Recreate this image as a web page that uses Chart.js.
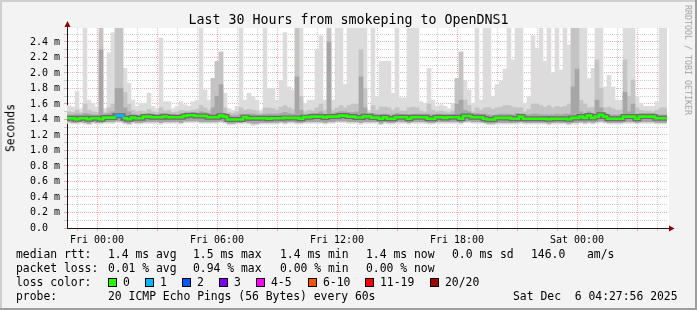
<!DOCTYPE html>
<html>
<head>
<meta charset="utf-8">
<script src="https://cdn.jsdelivr.net/npm/chart.js@4/dist/chart.umd.min.js"></script>
<style>
html,body{margin:0;padding:0;background:#f3f3f3;}
#wrap{position:relative;width:697px;height:310px;background:#f3f3f3;overflow:hidden;}
#c{position:absolute;left:0;top:0;}
.fr{position:absolute;}
.t{position:absolute;font-family:"DejaVu Sans Mono",monospace;white-space:pre;color:#000;line-height:1;font-size:11.4px;}
.box{position:absolute;width:9px;height:9px;box-sizing:border-box;border:1px solid #000;top:278px;}
</style>
</head>
<body>
<div id="wrap">
  <div class="fr" style="left:0;top:0;width:697px;height:2px;background:#cfcfcf"></div>
  <div class="fr" style="left:0;top:0;width:2px;height:310px;background:#cfcfcf"></div>
  <div class="fr" style="left:0;top:308px;width:697px;height:2px;background:#9e9e9e"></div>
  <div class="fr" style="left:695px;top:0;width:2px;height:310px;background:#9e9e9e"></div>
  <canvas id="c" width="697" height="310"></canvas>
  <div class="t" style="left:0;width:697px;text-align:center;top:13px;font-size:13.3px;">Last 30 Hours from smokeping to OpenDNS1</div>
  <div class="t" style="left:10.5px;top:127.5px;transform:translate(-50%,-50%) rotate(-90deg);">Seconds</div>
  <div class="t" style="left:688px;top:60px;transform:translate(-50%,-50%) rotate(90deg);font-size:8.3px;color:#a0a0a0;">RRDTOOL / TOBI OETIKER</div>
  <div id="legend"></div>
</div>
<script>
// ---- data (values in milliseconds), one entry per 12-minute bin ----
const smokeMax = [
 1.58,1.56,1.76,1.54,2.58,1.65,1.61,1.56,2.58,1.54,
 2.26,2.52,2.58,2.58,2.06,1.87,1.65,1.57,1.61,1.61,
 1.74,1.57,1.54,2.45,1.63,1.63,1.54,1.57,1.63,1.59,
 1.57,1.63,1.65,2.58,1.78,1.65,1.93,2.15,2.27,1.74,
 1.54,1.52,1.57,2.58,1.65,1.74,1.70,1.65,1.52,2.58,
 1.80,1.80,1.65,1.90,2.52,1.82,1.78,2.58,2.58,1.61,
 1.65,1.65,2.30,2.48,1.65,2.58,1.65,2.58,2.58,1.85,
 2.58,2.58,2.58,2.58,2.58,1.52,2.58,1.70,2.15,2.15,
 2.15,1.74,2.58,1.68,1.68,2.58,2.58,2.58,1.63,1.61,
 2.06,1.65,1.57,1.59,1.57,1.54,1.61,1.93,2.27,1.90,
 1.78,1.61,2.58,1.65,2.58,2.58,1.70,1.85,1.90,2.05,
 2.58,2.17,2.58,2.58,1.61,1.69,2.48,2.32,2.58,2.15,
 2.58,2.00,2.58,2.04,2.58,2.36,2.58,2.58,2.58,2.58,
 1.93,2.06,2.58,2.58,1.82,1.97,1.82,1.65,1.65,2.58,
 2.58,2.58,1.70,1.61,1.57,1.57,1.57,1.63,2.58,2.58];

const smokeHigh = [
 1.50,1.49,1.52,1.49,1.60,1.52,1.50,1.49,2.58,1.49,
 1.55,1.60,2.58,2.58,1.75,1.60,1.52,1.50,1.51,1.50,
 1.53,1.50,1.49,1.55,1.51,1.52,1.49,1.50,1.52,1.51,
 1.51,1.52,1.53,1.58,1.55,1.52,1.93,2.15,2.27,1.55,
 1.49,1.48,1.50,1.55,1.52,1.53,1.52,1.51,1.48,1.55,
 1.55,1.54,1.52,1.56,1.58,1.55,1.53,2.58,1.70,1.50,
 1.52,1.51,1.55,1.60,1.52,2.58,1.52,1.55,1.58,1.55,
 1.58,1.60,1.60,2.30,1.80,1.49,1.58,1.52,1.56,1.56,
 1.55,1.52,1.55,1.51,1.51,1.55,1.56,1.55,1.51,1.50,
 1.60,1.52,1.50,1.51,1.50,1.49,1.51,1.93,2.27,1.65,
 1.58,1.50,1.55,1.52,1.55,1.55,1.53,1.55,1.56,1.58,
 1.58,1.56,1.55,1.55,1.50,1.53,1.60,1.60,1.58,1.56,
 1.58,1.55,1.57,1.56,1.57,1.60,2.58,2.58,1.65,1.60,
 1.55,1.56,2.17,1.80,1.55,1.56,1.54,1.52,1.52,2.17,
 1.70,1.91,1.55,1.52,1.51,1.51,1.50,1.52,1.55,1.55];

const smokeMid = [
 1.46,1.46,1.47,1.46,1.48,1.47,1.46,1.46,2.30,1.47,
 1.48,1.50,1.80,1.80,1.55,1.50,1.47,1.46,1.46,1.47,
 1.48,1.47,1.46,1.48,1.48,1.47,1.47,1.46,1.47,1.48,
 1.48,1.49,1.48,1.50,1.49,1.47,1.55,1.70,1.85,1.48,
 1.45,1.45,1.45,1.47,1.47,1.47,1.47,1.46,1.46,1.47,
 1.47,1.47,1.47,1.48,1.49,1.48,1.47,1.95,1.52,1.46,
 1.47,1.48,1.48,1.50,1.47,2.40,1.48,1.49,1.50,1.50,
 1.49,1.49,1.50,1.95,1.55,1.47,1.48,1.47,1.47,1.47,
 1.46,1.46,1.48,1.47,1.47,1.46,1.47,1.47,1.47,1.47,
 1.47,1.46,1.47,1.47,1.46,1.46,1.47,1.60,1.65,1.52,
 1.50,1.47,1.48,1.47,1.47,1.46,1.45,1.46,1.47,1.47,
 1.47,1.46,1.48,1.47,1.46,1.46,1.47,1.47,1.46,1.46,
 1.46,1.46,1.47,1.46,1.47,1.47,1.82,2.05,1.50,1.47,
 1.50,1.47,1.65,1.55,1.48,1.46,1.46,1.46,1.46,1.75,
 1.50,1.60,1.46,1.48,1.48,1.48,1.48,1.46,1.46,1.46];

const smokeLow = [
 1.37,1.36,1.36,1.37,1.36,1.35,1.37,1.36,1.36,1.37,
 1.37,1.37,1.38,1.38,1.36,1.35,1.37,1.36,1.36,1.37,
 1.37,1.37,1.37,1.36,1.37,1.37,1.37,1.37,1.36,1.38,
 1.38,1.38,1.38,1.37,1.37,1.37,1.37,1.37,1.38,1.37,
 1.35,1.35,1.36,1.36,1.37,1.36,1.35,1.35,1.36,1.36,
 1.36,1.36,1.36,1.37,1.36,1.37,1.37,1.36,1.36,1.37,
 1.37,1.37,1.37,1.37,1.36,1.37,1.37,1.38,1.38,1.38,
 1.37,1.37,1.37,1.36,1.37,1.37,1.37,1.37,1.35,1.37,
 1.36,1.36,1.37,1.37,1.37,1.36,1.37,1.37,1.37,1.37,
 1.36,1.36,1.37,1.37,1.37,1.37,1.37,1.37,1.36,1.38,
 1.38,1.37,1.37,1.37,1.36,1.35,1.35,1.36,1.36,1.36,
 1.36,1.36,1.36,1.37,1.36,1.36,1.36,1.36,1.36,1.36,
 1.35,1.36,1.36,1.36,1.36,1.35,1.36,1.36,1.37,1.36,
 1.37,1.36,1.37,1.38,1.37,1.36,1.36,1.36,1.36,1.37,
 1.37,1.37,1.36,1.37,1.37,1.37,1.37,1.36,1.36,1.36];

const smokeMin = [
 1.35,1.34,1.34,1.35,1.34,1.33,1.35,1.34,1.34,1.35,
 1.35,1.35,1.36,1.36,1.34,1.33,1.35,1.34,1.34,1.35,
 1.35,1.35,1.35,1.34,1.35,1.35,1.35,1.35,1.34,1.36,
 1.36,1.36,1.36,1.35,1.35,1.35,1.35,1.35,1.36,1.35,
 1.33,1.33,1.34,1.34,1.35,1.34,1.32,1.33,1.34,1.34,
 1.34,1.34,1.34,1.35,1.34,1.35,1.35,1.34,1.34,1.35,
 1.35,1.35,1.35,1.35,1.34,1.35,1.35,1.36,1.36,1.36,
 1.35,1.35,1.35,1.34,1.35,1.35,1.35,1.35,1.33,1.35,
 1.34,1.34,1.35,1.35,1.35,1.34,1.35,1.35,1.35,1.35,
 1.34,1.34,1.35,1.35,1.35,1.35,1.35,1.35,1.34,1.36,
 1.36,1.35,1.35,1.35,1.34,1.33,1.33,1.34,1.34,1.34,
 1.34,1.34,1.34,1.35,1.34,1.34,1.34,1.34,1.34,1.34,
 1.33,1.34,1.34,1.34,1.34,1.33,1.34,1.34,1.35,1.34,
 1.35,1.34,1.35,1.36,1.35,1.34,1.34,1.34,1.34,1.35,
 1.35,1.35,1.34,1.35,1.35,1.35,1.35,1.34,1.34,1.34];

const medianRtt = [
 1.415,1.415,1.402,1.415,1.415,1.402,1.415,1.415,1.402,1.424,
 1.424,1.424,1.449,1.449,1.415,1.402,1.424,1.415,1.415,1.437,
 1.437,1.428,1.428,1.428,1.437,1.428,1.428,1.428,1.428,1.445,
 1.454,1.454,1.445,1.445,1.445,1.428,1.428,1.428,1.449,1.437,
 1.400,1.400,1.400,1.400,1.430,1.415,1.415,1.415,1.415,1.415,
 1.410,1.415,1.415,1.415,1.420,1.420,1.420,1.420,1.410,1.430,
 1.430,1.437,1.437,1.437,1.425,1.437,1.437,1.437,1.450,1.450,
 1.437,1.437,1.425,1.425,1.440,1.440,1.424,1.424,1.410,1.428,
 1.410,1.410,1.428,1.428,1.428,1.410,1.428,1.428,1.428,1.428,
 1.410,1.410,1.428,1.428,1.420,1.428,1.428,1.428,1.410,1.445,
 1.445,1.428,1.428,1.428,1.410,1.400,1.400,1.420,1.420,1.420,
 1.420,1.410,1.410,1.437,1.410,1.410,1.410,1.410,1.410,1.410,
 1.402,1.410,1.410,1.410,1.410,1.402,1.420,1.420,1.437,1.420,
 1.450,1.420,1.437,1.460,1.437,1.410,1.410,1.410,1.410,1.437,
 1.437,1.437,1.410,1.437,1.437,1.437,1.437,1.415,1.415,1.415];

// lost pings per bin (bin index, count); all other bins lost 0 of 20
const lossEvents = [[12, 1], [13, 1]];

const lossLabels = ['0', '1', '2', '3', '4-5', '6-10', '11-19', '20/20'];
const lossColors = ['#26ff00', '#00b8ff', '#0059ff', '#7e00ff', '#ff00ff', '#ff5500', '#ff0000', '#a10000'];

const tickHours = [0, 6, 12, 18, 24];
const tickNames = ['Fri 00:00', 'Fri 06:00', 'Fri 12:00', 'Fri 18:00', 'Sat 00:00'];

// time window: hours relative to Fri 00:00
const startHour = -1.5, endHour = 28.5, binHours = 0.2;
const yTop = 2.58;

// ---- build datasets ----
const binStart = medianRtt.map((_, i) => startHour + i * binHours);
const binMid = binStart.map(h => h + binHours / 2);
const band = (lo, hi) => lo.map((v, i) => ({x: binMid[i], y: [v, hi[i]]}));
const stepPts = medianRtt.map((v, i) => ({x: binStart[i], y: v}));
stepPts.push({x: endHour, y: medianRtt[medianRtt.length - 1]});
const lossAt = {};
lossEvents.forEach(([i, n]) => { lossAt[i] = n; });
function lossColor(n) {
  if (!n) return lossColors[0];
  if (n <= 3) return lossColors[n];
  if (n <= 5) return lossColors[4];
  if (n <= 10) return lossColors[5];
  if (n <= 19) return lossColors[6];
  return lossColors[7];
}

const FONT = '"DejaVu Sans Mono", monospace';
const gridX = []; for (let h = -1; h <= 28; h++) gridX.push(h);
const gridY = []; for (let k = 0; k <= 25; k++) gridY.push(k / 10);

const barCommon = {type: 'bar', grouped: false, barPercentage: 1, categoryPercentage: 1, borderWidth: 0, inflateAmount: 0.3};

const frame = {
  id: 'frame',
  beforeDraw(chart) {
    const {ctx, chartArea: a} = chart;
    ctx.save();
    ctx.fillStyle = '#ffffff';
    ctx.fillRect(a.left, a.top, a.right - a.left + 2, a.bottom - a.top);
    ctx.restore();
  },
  afterDraw(chart) {
    const {ctx, chartArea: a} = chart;
    ctx.save();
    ctx.strokeStyle = '#1a1a1a';
    ctx.lineWidth = 1;
    ctx.beginPath();
    ctx.moveTo(a.right, a.bottom + 0.5); ctx.lineTo(a.right + 3, a.bottom + 0.5);
    ctx.moveTo(a.left + 0.5, a.top); ctx.lineTo(a.left + 0.5, a.top - 3);
    ctx.stroke();
    ctx.fillStyle = '#8b0000';
    ctx.beginPath();
    ctx.moveTo(a.right + 2, a.bottom - 2.5); ctx.lineTo(a.right + 2, a.bottom + 3.5); ctx.lineTo(a.right + 7.5, a.bottom + 0.5);
    ctx.closePath(); ctx.fill();
    ctx.beginPath();
    ctx.moveTo(a.left - 2.5, a.top - 1); ctx.lineTo(a.left + 3.5, a.top - 1); ctx.lineTo(a.left + 0.5, a.top - 7);
    ctx.closePath(); ctx.fill();
    ctx.restore();
  }
};

const majorX = v => Math.abs(v % 3) < 1e-6;
const majorY = v => Math.round(v * 10) % 2 === 0;
const GRID_MINOR = 'rgba(140,140,140,0.42)';
const GRID_MAJOR = 'rgba(240,60,60,0.42)';

new Chart(document.getElementById('c'), {
  type: 'bar',
  data: {
    datasets: [
      Object.assign({}, barCommon, {data: band(smokeMin, smokeMax), backgroundColor: '#dcdcdc', order: 6}),
      Object.assign({}, barCommon, {data: band(smokeLow, smokeHigh), backgroundColor: '#c4c4c4', order: 5}),
      Object.assign({}, barCommon, {data: band(smokeLow, smokeMid), backgroundColor: '#a6a6a6', order: 4}),
      {type: 'line', data: stepPts, stepped: true, borderColor: '#6c6c6c', borderWidth: 5, pointRadius: 0, order: 2, borderCapStyle: 'butt'},
      {type: 'line', data: stepPts, stepped: true, borderColor: lossColors[0], borderWidth: 2.6, pointRadius: 0, order: 1, borderCapStyle: 'butt',
       segment: {borderColor: c => lossColor(lossAt[c.p0DataIndex])}}
    ]
  },
  options: {
    responsive: false,
    animation: false,
    devicePixelRatio: 1,
    layout: {padding: {left: 0, right: 30, top: 28, bottom: 60}},
    plugins: {legend: {display: false}, tooltip: {enabled: false}, title: {display: false}},
    scales: {
      x: {
        type: 'linear', min: startHour, max: endHour, offset: false, z: 1,
        afterBuildTicks: s => { s.ticks = gridX.map(v => ({value: v})); },
        afterFit: s => { s.height = 22; s.paddingLeft = 0; s.paddingRight = 0; },
        ticks: {autoSkip: false, maxRotation: 0, minRotation: 0, padding: 3, color: '#000',
          font: {family: FONT, size: 10},
          callback: v => { const i = tickHours.indexOf(v); return i >= 0 ? tickNames[i] : ''; }},
        grid: {offset: false, tickLength: 3, color: c => majorX(c.tick.value) ? GRID_MAJOR : GRID_MINOR,
          tickColor: c => majorX(c.tick.value) ? GRID_MAJOR : GRID_MINOR},
        border: {display: true, color: '#1a1a1a', width: 1, dash: [1, 1]}
      },
      y: {
        type: 'linear', min: 0, max: yTop, z: 1,
        afterBuildTicks: s => { s.ticks = gridY.map(v => ({value: v})); },
        afterFit: s => { s.width = 67; },
        ticks: {autoSkip: false, padding: 4, color: '#000', font: {family: FONT, size: 10},
          callback: v => majorY(v) ? (v === 0 ? '0.0  ' : v.toFixed(1) + ' m') : ''},
        grid: {tickLength: 3, color: c => majorY(c.tick.value) ? GRID_MAJOR : GRID_MINOR,
          tickColor: c => majorY(c.tick.value) ? GRID_MAJOR : GRID_MINOR},
        border: {display: true, color: '#1a1a1a', width: 1, dash: [1, 1]}
      }
    }
  },
  plugins: [frame]
});

// ---- legend text below the plot ----
const rows = [
  {top: 249, items: [[16, 'median rtt:'], [108, '1.4 ms avg'], [193, '1.5 ms max'], [280, '1.4 ms min'], [366, '1.4 ms now'], [452, '0.0 ms sd'], [531, '146.0'], [587, 'am/s']]},
  {top: 263, items: [[16, 'packet loss:'], [108, '0.01 % avg'], [193, '0.94 % max'], [280, '0.00 % min'], [366, '0.00 % now']]},
  {top: 277, items: [[16, 'loss color:']]},
  {top: 291, items: [[16, 'probe:'], [108, '20 ICMP Echo Pings (56 Bytes) every 60s'], [513, 'Sat Dec  6 04:27:56 2025']]}
];
const boxX = [108, 145, 182, 219, 256, 308, 365, 430];
const leg = document.getElementById('legend');
rows.forEach(r => r.items.forEach(([x, s]) => {
  const d = document.createElement('div');
  d.className = 't'; d.style.left = x + 'px'; d.style.top = r.top + 'px'; d.textContent = s;
  leg.appendChild(d);
}));
lossLabels.forEach((lab, i) => {
  const b = document.createElement('div');
  b.className = 'box'; b.style.left = boxX[i] + 'px'; b.style.background = lossColors[i];
  leg.appendChild(b);
  const d = document.createElement('div');
  d.className = 't'; d.style.left = (boxX[i] + 15) + 'px'; d.style.top = '277px'; d.textContent = lab;
  leg.appendChild(d);
});
</script>
</body>
</html>
